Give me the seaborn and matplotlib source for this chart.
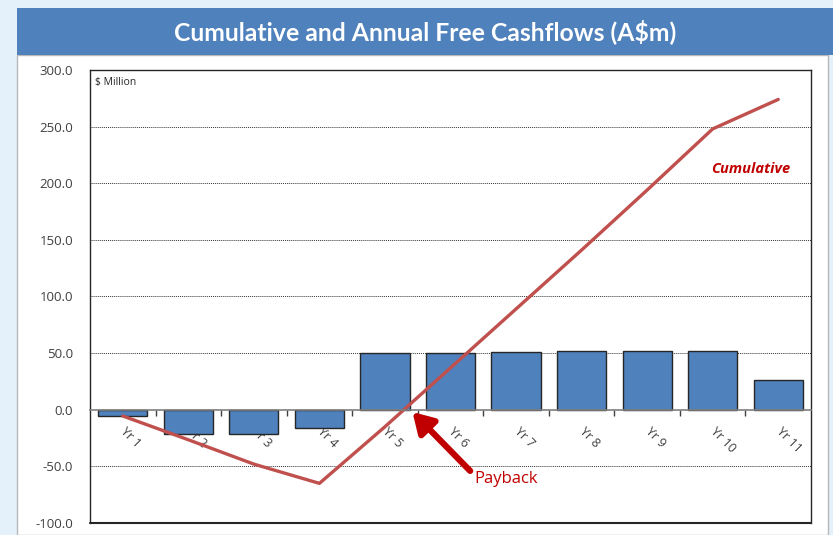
import numpy as np
import matplotlib.pyplot as plt
import matplotlib.patches as mpatches
import seaborn as sns

# values (A$ million)
years = ['Yr 1', 'Yr 2', 'Yr 3', 'Yr 4', 'Yr 5', 'Yr 6',
         'Yr 7', 'Yr 8', 'Yr 9', 'Yr 10', 'Yr 11']
annual = [-5.5, -21.0, -21.0, -16.5, 50.5, 50.5, 51.2, 52.0, 52.0, 52.0, 26.6]
cumulative = [-5.5, -26.5, -48.0, -65.0, -15.0, 37.0, 89.0, 141.0, 194.0, 248.0, 274.0]
y_ticks = [-100, -50, 0, 50, 100, 150, 200, 250, 300]

bar_blue = '#4F81BD'
line_red = '#C0504D'
dark_red = '#C00000'

sns.set_theme(style='white')
plt.rcParams['font.family'] = ['Open Sans', 'DejaVu Sans']

fig = plt.figure(figsize=(8.33, 5.35), dpi=100)
fig.patch.set_facecolor('#E4F1FB')

# white card and title band behind the chart
W, H = 833, 535
fig.patches.append(mpatches.Rectangle((17 / W, 0), (828 - 17) / W, (535 - 55) / H,
                                      transform=fig.transFigure, facecolor='white',
                                      edgecolor='#B8B8B8', lw=1.0, zorder=-2))
fig.patches.append(mpatches.Rectangle((17 / W, 1 - 55 / H), (833 - 17) / W, 47 / H,
                                      transform=fig.transFigure, facecolor='#4F81BD',
                                      edgecolor='none', zorder=-1))
fig.text((17 + 833) / 2 / W, 1 - 32 / H, 'Cumulative and Annual Free Cashflows (A$m)',
         ha='center', va='center', color='white', fontsize=17.8, fontweight='bold',
         family=['Lato', 'DejaVu Sans'])

ax = fig.add_axes([90 / W, 1 - 523 / H, (811 - 90) / W, (523 - 70) / H])
ax.set_zorder(2)
ax.set_facecolor('white')

sns.barplot(x=years, y=annual, color=bar_blue, width=0.75, saturation=1,
            edgecolor='#262626', linewidth=1.0, ax=ax, zorder=3)
sns.lineplot(x=np.arange(len(years)), y=cumulative, color=line_red, lw=2.4,
             ax=ax, zorder=4)

ax.set_xlim(-0.5, len(years) - 0.5)
ax.set_ylim(-100, 300)
ax.set_yticks(y_ticks)
ax.set_yticklabels([f'{v:.1f}' for v in y_ticks], fontsize=9.5, color='#404040')
ax.tick_params(axis='y', length=0, pad=12)

# dotted grid lines
for v in y_ticks[1:-1]:
    if v != 0:
        ax.axhline(v, color='#333333', lw=0.7, ls=(0, (1, 1)), zorder=1)

# category axis crosses at zero
ax.spines['bottom'].set_position(('data', 0))
ax.spines['bottom'].set_color('#7F7F7F')
ax.spines['bottom'].set_linewidth(1.2)
ax.spines['bottom'].set_zorder(5)
for s in ['left', 'right', 'top']:
    ax.spines[s].set_color('#262626')
    ax.spines[s].set_linewidth(1.0)
ax.plot([0, 1], [0, 0], transform=ax.transAxes, color='#262626', lw=1.5, clip_on=False)

ax.set_xticks(range(len(years)))
ax.set_xticklabels(years, rotation=-45, ha='left', va='center',
                   rotation_mode='anchor', fontsize=9, color='#404040')
ax.tick_params(axis='x', which='major', length=0, pad=14)
ax.set_xticks(np.arange(0.5, len(years) - 1, 1), minor=True)
ax.tick_params(axis='x', which='minor', direction='out', length=4,
               width=1.0, color='#404040', bottom=True)
ax.set_xlabel('')
ax.set_ylabel('')

ax.text(0.007, 0.985, '$ Million', transform=ax.transAxes, ha='left', va='top',
        fontsize=7.5, color='#262626')
ax.text(9.58, 213, 'Cumulative', ha='center', va='center', fontsize=10.5,
        fontweight='bold', fontstyle='italic', color=dark_red)

ax.annotate('', xy=(4.42, -2), xytext=(5.3, -54),
            arrowprops=dict(arrowstyle='-|>,head_length=1.0,head_width=0.6',
                            color=dark_red, lw=4.5, shrinkA=0, shrinkB=0), zorder=6)
ax.text(5.37, -61, 'Payback', ha='left', va='center', fontsize=12, color=dark_red)

fig.savefig('out.png', dpi=100, facecolor=fig.get_facecolor())
